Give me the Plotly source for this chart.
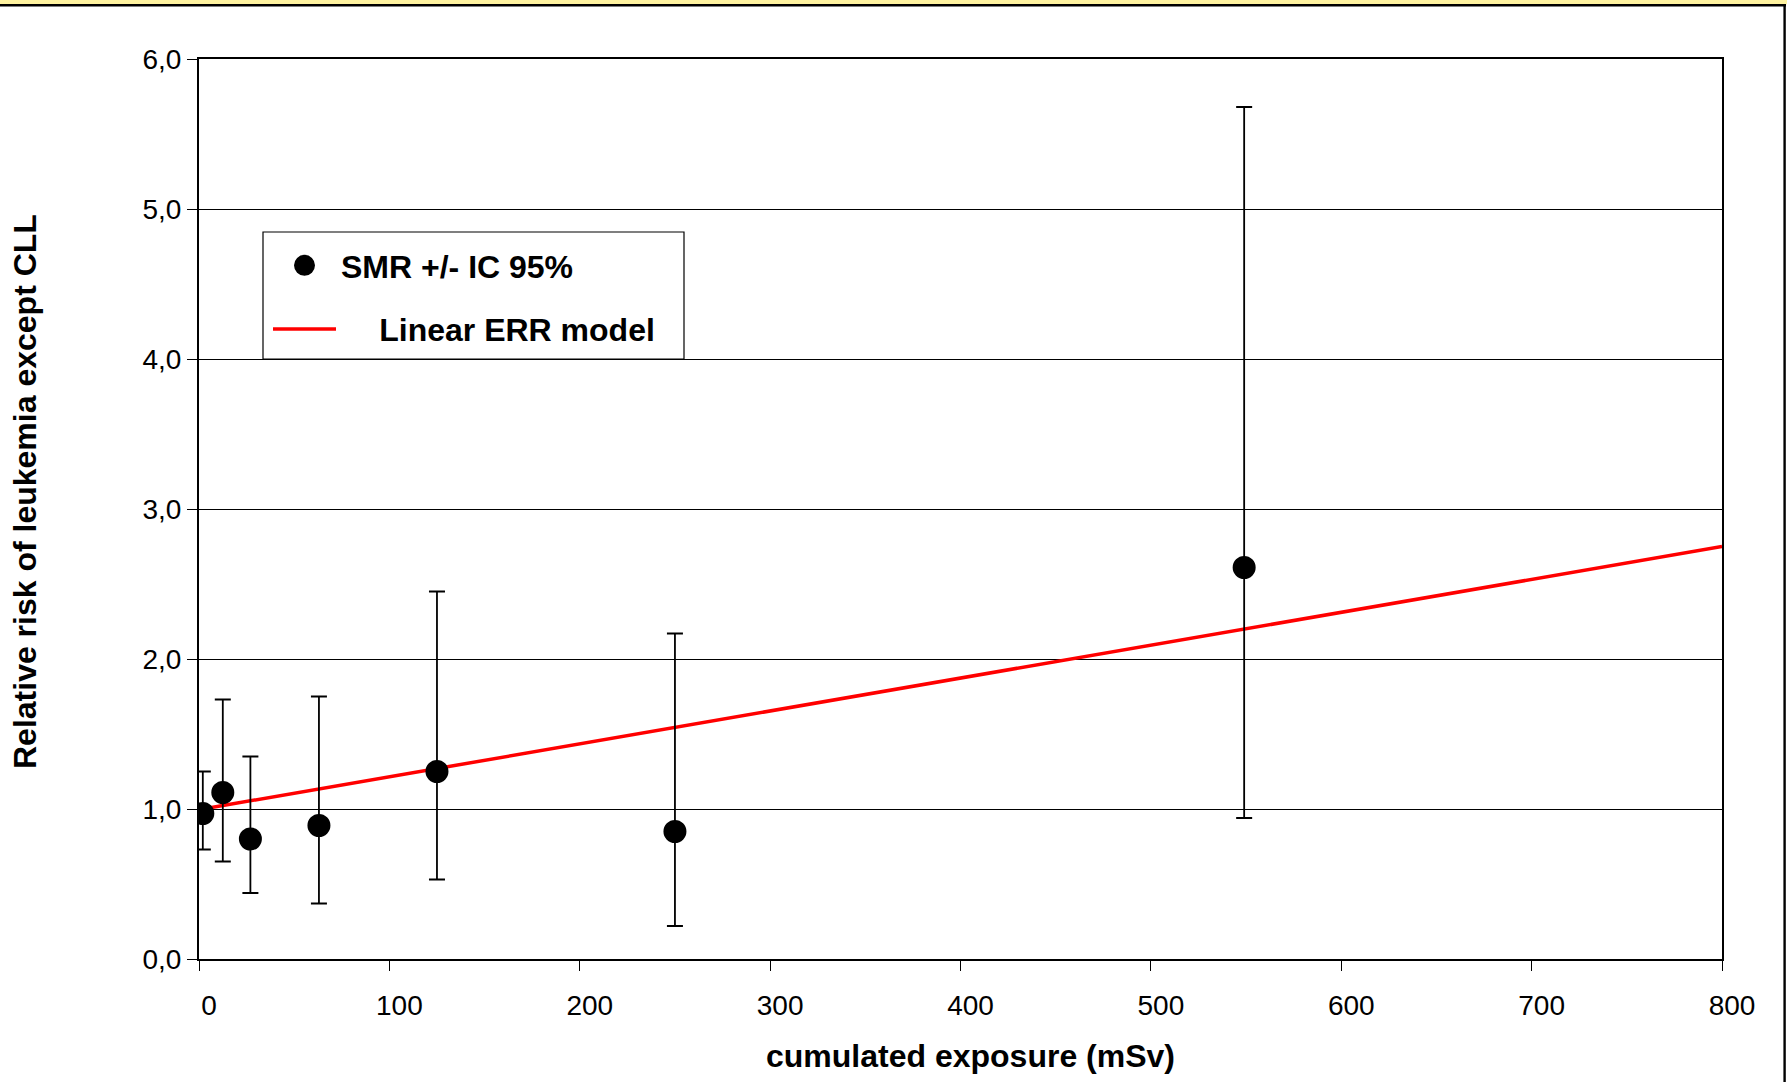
import plotly.graph_objects as go

# ---------------- data ----------------
dose_msv = [2, 12.5, 27, 63, 125, 250, 549]
smr = [0.97, 1.11, 0.80, 0.89, 1.25, 0.85, 2.61]
ci_upper = [1.25, 1.73, 1.35, 1.75, 2.45, 2.17, 5.68]
ci_lower = [0.73, 0.65, 0.44, 0.37, 0.53, 0.22, 0.94]

model_dose = [2, 800]
model_rr = [1.00, 2.75]

x_tickvals = [0, 100, 200, 300, 400, 500, 600, 700, 800]
x_ticktext = ["0", "100", "200", "300", "400", "500", "600", "700", "800"]
y_tickvals = [0, 1, 2, 3, 4, 5, 6]
y_ticktext = ["0,0", "1,0", "2,0", "3,0", "4,0", "5,0", "6,0"]

x_title = "cumulated exposure (mSv)"
y_title = "Relative risk of leukemia except CLL"

# ---------------- layout geometry ----------------
W, H = 1787, 1082
L, R, T, B = 199, 1722, 59, 959  # plot-area edges in pixels


def px_x(p):
    return (p - L) / (R - L)


def px_y(p):
    return (B - p) / (B - T)


FONT = "Liberation Sans, Arial, sans-serif"
NB = "\u00a0"

fig = go.Figure()

fig.add_trace(go.Scatter(
    x=model_dose, y=model_rr, mode="lines",
    name=NB * 4 + "\u200a" + "Linear ERR model",
    legendgroup="b", legendrank=2,
    line=dict(color="#ff0000", width=3.5),
))

fig.add_trace(go.Scatter(
    x=dose_msv, y=smr, mode="markers", name="SMR +/- IC 95%",
    legendgroup="a", legendrank=1,
    marker=dict(color="black", size=18, symbol="circle",
                line=dict(color="black", width=5)),
    error_y=dict(type="data", symmetric=False,
                 array=[u - v for u, v in zip(ci_upper, smr)],
                 arrayminus=[v - l for l, v in zip(ci_lower, smr)],
                 color="black", thickness=1.8, width=8),
))

shapes = [
    # legend frame
    dict(type="rect", xref="paper", yref="paper",
         x0=px_x(263), x1=px_x(684), y0=px_y(359), y1=px_y(232),
         line=dict(color="black", width=1.2), fillcolor="white", layer="below"),
    # yellow strip at the very top
    dict(type="rect", xref="paper", yref="paper",
         x0=px_x(-2), x1=px_x(W + 2), y0=px_y(4.2), y1=px_y(-2),
         line=dict(width=0), fillcolor="#fff3a0", layer="above"),
    # top black frame line
    dict(type="line", xref="paper", yref="paper",
         x0=px_x(-2), x1=px_x(1786), y0=px_y(5.2), y1=px_y(5.2),
         line=dict(color="black", width=2.4), layer="above"),
    # right black frame line
    dict(type="line", xref="paper", yref="paper",
         x0=px_x(1784.6), x1=px_x(1784.6), y0=px_y(5), y1=px_y(H + 2),
         line=dict(color="black", width=2.4), layer="above"),
]

annotations = [
    dict(text=y_title, xref="paper", yref="paper",
         x=px_x(25), y=px_y(492), xanchor="center", yanchor="middle",
         textangle=-90, showarrow=False,
         font=dict(family=FONT, size=32, color="black", weight="bold")),
    dict(text=x_title, xref="paper", yref="paper",
         x=px_x(970), y=px_y(1056), xanchor="center", yanchor="middle",
         showarrow=False,
         font=dict(family=FONT, size=32, color="black", weight="bold")),
]

fig.update_layout(
    width=W, height=H,
    margin=dict(l=L, r=W - R, t=T, b=H - B, pad=0),
    paper_bgcolor="white", plot_bgcolor="white",
    font=dict(family=FONT, color="black"),
    showlegend=True,
    legend=dict(x=px_x(268), y=px_y(238), xanchor="left", yanchor="top",
                bgcolor="rgba(0,0,0,0)", borderwidth=0,
                font=dict(family=FONT, size=32, color="black", weight="bold"),
                itemwidth=63, tracegroupgap=19, traceorder="grouped"),
    shapes=shapes,
    annotations=annotations,
    xaxis=dict(range=[0, 800], showgrid=False, zeroline=False,
               showline=True, mirror=True, linecolor="black", linewidth=2,
               ticks="outside", ticklen=10, tickwidth=1, tickcolor="black",
               tickvals=x_tickvals, ticktext=x_ticktext,
               tickfont=dict(family=FONT, size=28, color="black"),
               ticklabelshift=10, ticklabelstandoff=10),
    yaxis=dict(range=[0, 6], showgrid=True, gridcolor="black", gridwidth=1.2,
               zeroline=False,
               showline=True, mirror=True, linecolor="black", linewidth=2,
               ticks="outside", ticklen=10, tickwidth=1, tickcolor="black",
               tickvals=y_tickvals, ticktext=y_ticktext,
               tickfont=dict(family=FONT, size=28, color="black")),
)

fig.write_html(
    "out.html",
    config={"displayModeBar": False},
    post_script="document.body.style.margin='0';document.body.style.overflow='hidden';",
)
